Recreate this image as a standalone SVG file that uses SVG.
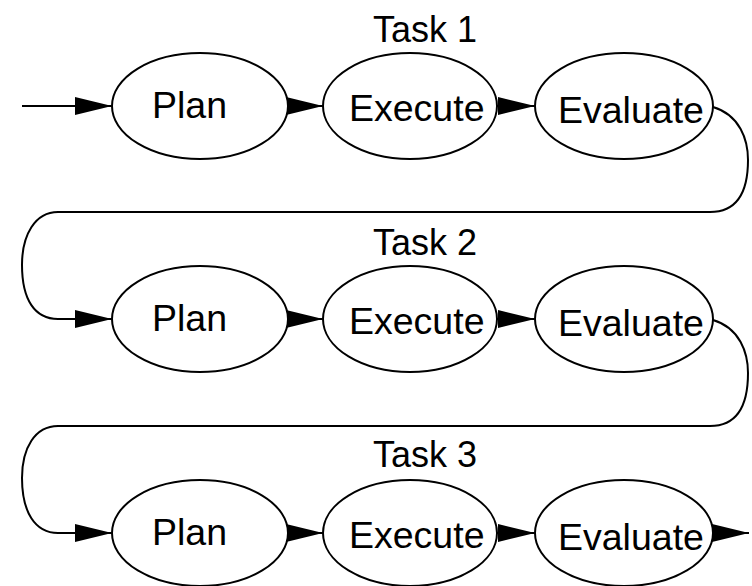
<svg xmlns="http://www.w3.org/2000/svg" width="752" height="586" viewBox="0 0 752 586">
<style>
.node ellipse{fill:#fff;stroke:#000;stroke-width:2}
.lbl{font-family:"Liberation Sans",Arial,sans-serif;font-size:37.5px;fill:#000}
.task{font-family:"Liberation Sans",Arial,sans-serif;font-size:36px;fill:#000;text-anchor:middle}
.conn path{fill:none;stroke:#000;stroke-width:2;marker-end:url(#arrow)}
</style>
<defs>
<marker id="arrow" markerUnits="userSpaceOnUse" markerWidth="37" markerHeight="18" viewBox="0 0 37 18" refX="37" refY="9" orient="auto">
<path d="M0 0 L37 9 L0 18 Z" fill="#000"/>
</marker>
</defs>
<rect width="752" height="586" fill="#fff"/>
<g id="labels">
<text class="task" x="425" y="42">Task 1</text>
<text class="task" x="425" y="255">Task 2</text>
<text class="task" x="425" y="467">Task 3</text>
</g>
<g id="connectors" class="conn">
<path d="M22 106 L112 106"/>
<path d="M287 106 L323 106"/>
<path d="M497 106 L535 106"/>
<path d="M713 107 C740 115 748 140 748 160 C748 195 735 212 710 212 L58 212 C35 212 22 235 22 265 C22 300 35 319 58 319 L112 319"/>
<path d="M287 319 L323 319"/>
<path d="M497 319 L535 319"/>
<path d="M713 320 C740 328 748 353 748 373 C748 408 735 426 710 426 L58 426 C35 426 22 448 22 478 C22 512 35 533 58 533 L112 533"/>
<path d="M287 533 L323 533"/>
<path d="M497 533 L535 533"/>
<path d="M712 533 L749 533"/>
</g>
<g id="plan1" class="node"><ellipse cx="200" cy="106" rx="88" ry="53"/><text class="lbl" x="152" y="118">Plan</text></g>
<g id="execute1" class="node"><ellipse cx="410" cy="106" rx="87" ry="53"/><text class="lbl" x="349" y="121">Execute</text></g>
<g id="evaluate1" class="node"><ellipse cx="624" cy="106" rx="89" ry="53"/><text class="lbl" x="558" y="123">Evaluate</text></g>
<g id="plan2" class="node"><ellipse cx="200" cy="319" rx="88" ry="53"/><text class="lbl" x="152" y="331">Plan</text></g>
<g id="execute2" class="node"><ellipse cx="410" cy="319" rx="87" ry="53"/><text class="lbl" x="349" y="334">Execute</text></g>
<g id="evaluate2" class="node"><ellipse cx="624" cy="319" rx="89" ry="53"/><text class="lbl" x="558" y="336">Evaluate</text></g>
<g id="plan3" class="node"><ellipse cx="200" cy="533" rx="88" ry="53"/><text class="lbl" x="152" y="545">Plan</text></g>
<g id="execute3" class="node"><ellipse cx="410" cy="533" rx="87" ry="53"/><text class="lbl" x="349" y="548">Execute</text></g>
<g id="evaluate3" class="node"><ellipse cx="624" cy="533" rx="89" ry="53"/><text class="lbl" x="558" y="550">Evaluate</text></g>
</svg>
